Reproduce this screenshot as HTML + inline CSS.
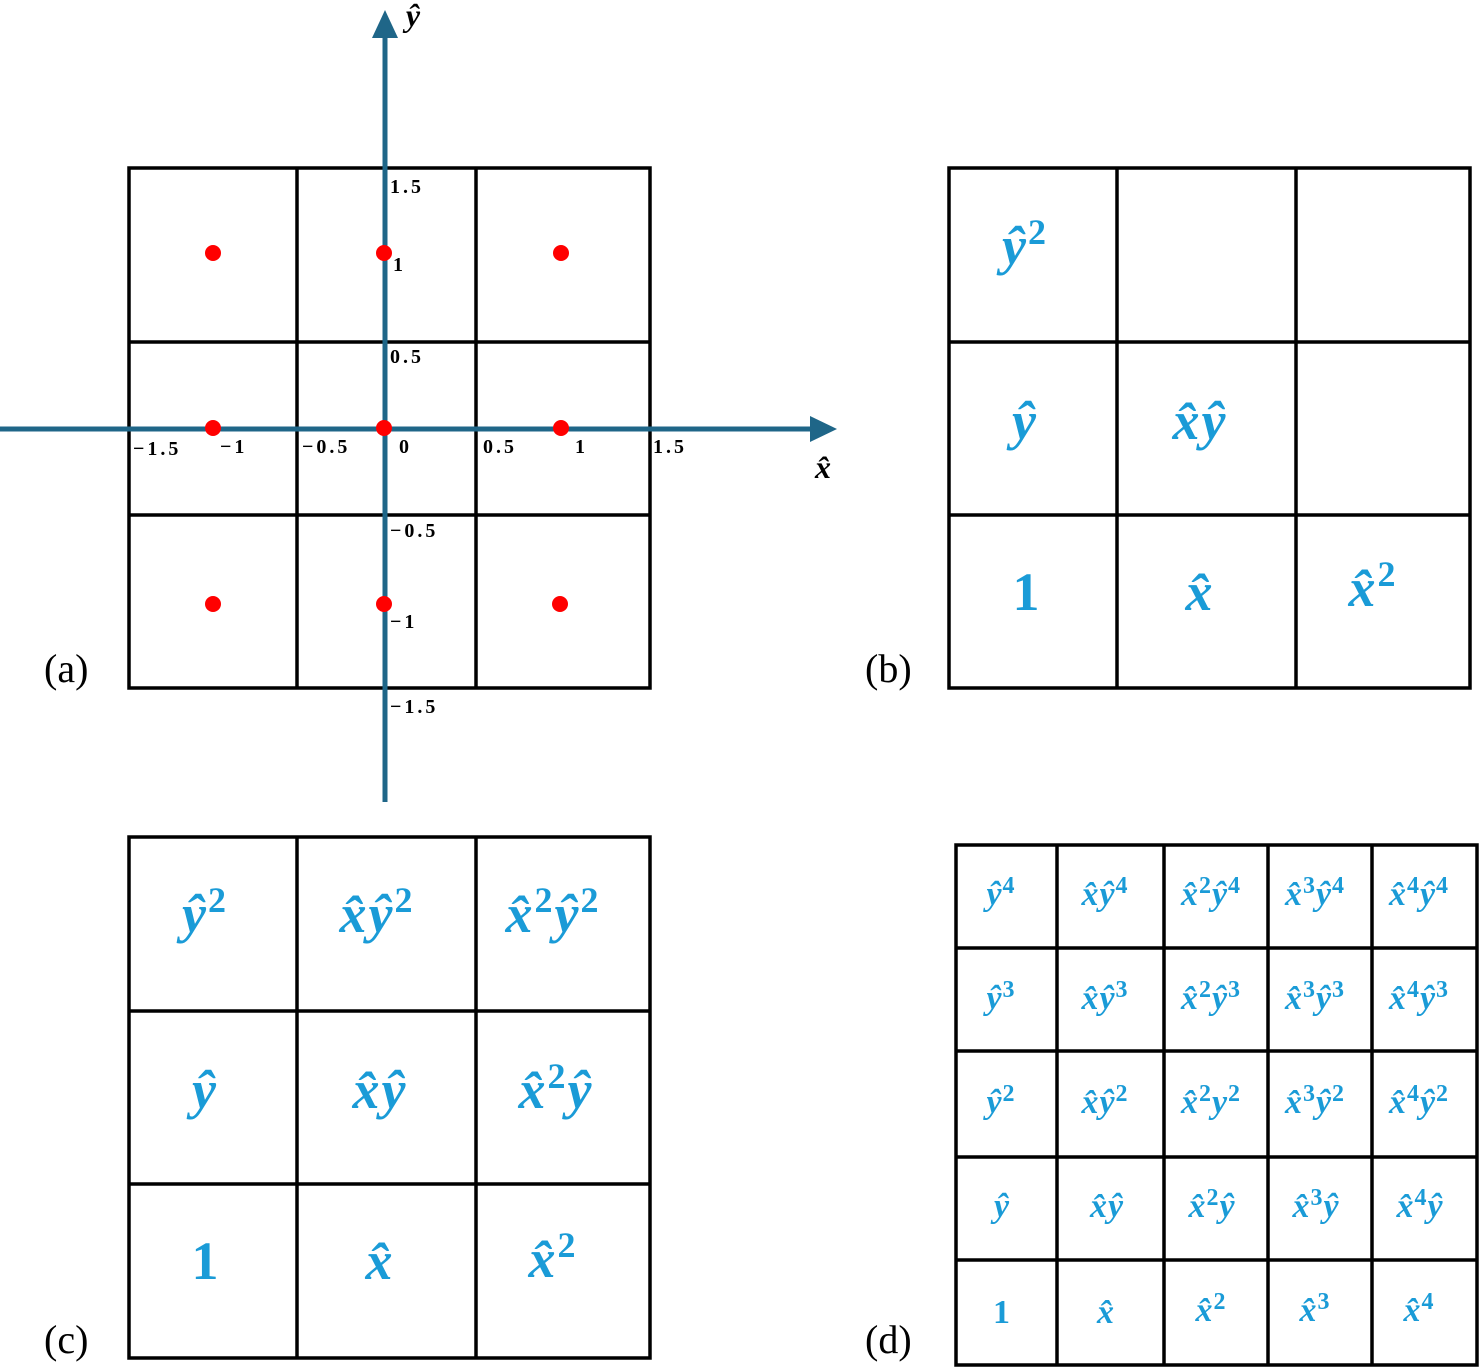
<!DOCTYPE html>
<html><head><meta charset="utf-8"><style>
html,body{margin:0;padding:0;background:#fff;}
svg{display:block;}
.m{font-family:"Liberation Serif","DejaVu Serif",serif;font-weight:bold;font-style:italic;fill:#1a9bd7;text-anchor:middle;letter-spacing:2px;}
.n{font-style:normal;}
.ax{font-family:"Liberation Serif",serif;font-weight:bold;font-size:20px;fill:#000;letter-spacing:3px;}
.lab{font-family:"Liberation Serif",serif;font-size:40px;fill:#000;}
.g{fill:none;stroke:#000;stroke-width:3.5;}
</style></head><body>
<svg width="1479" height="1367" viewBox="0 0 1479 1367" xmlns="http://www.w3.org/2000/svg">
<g class="g">
<rect x="129" y="168" width="521" height="520"/>
<line x1="297" y1="168" x2="297" y2="688"/><line x1="476" y1="168" x2="476" y2="688"/>
<line x1="129" y1="342" x2="650" y2="342"/><line x1="129" y1="515" x2="650" y2="515"/>
</g>
<g stroke="#1f6688" stroke-width="5" fill="#1f6688">
<line x1="0" y1="429" x2="815" y2="429"/>
<line x1="385" y1="802" x2="385" y2="35"/>
</g>
<polygon points="837,429 810,416 810,442" fill="#1f6688"/>
<polygon points="385,10 372,38 398,38" fill="#1f6688"/>
<text class="m" x="824" y="478" style="font-size:32px;fill:#000">x̂</text>
<text class="m" x="414" y="26" style="font-size:32px;fill:#000">ŷ</text>
<g fill="#f00">
<circle cx="213" cy="253" r="8"/><circle cx="384" cy="253" r="8"/><circle cx="561" cy="253" r="8"/>
<circle cx="213" cy="428" r="8"/><circle cx="384" cy="428" r="8"/><circle cx="561" cy="428" r="8"/>
<circle cx="213" cy="604" r="8"/><circle cx="384" cy="604" r="8"/><circle cx="560" cy="604" r="8"/>
</g>
<g class="ax">
<text x="390" y="193">1.5</text><text x="393" y="271">1</text><text x="390" y="363">0.5</text>
<text x="133" y="455">−1.5</text><text x="220" y="453">−1</text><text x="302" y="453">−0.5</text>
<text x="399" y="453">0</text><text x="483" y="453">0.5</text><text x="575" y="453">1</text><text x="653" y="453">1.5</text>
<text x="390" y="537">−0.5</text><text x="390" y="628">−1</text><text x="390" y="713">−1.5</text>
</g>
<text class="lab" x="44" y="682">(a)</text>
<text class="lab" x="865" y="682">(b)</text>
<text class="lab" x="44" y="1353">(c)</text>
<text class="lab" x="865" y="1353">(d)</text>

<g class="g">
<rect x="949" y="168" width="521" height="520"/>
<line x1="1117" y1="168" x2="1117" y2="688"/><line x1="1296" y1="168" x2="1296" y2="688"/>
<line x1="949" y1="342" x2="1470" y2="342"/><line x1="949" y1="515" x2="1470" y2="515"/>
</g>
<g class="m" style="font-size:54px">
<text x="1025" y="264">ŷ<tspan dy="-20" style="font-size:36px" class="n">2</tspan></text>
<text x="1025" y="439">ŷ</text>
<text x="1200" y="439">x̂ŷ</text>
<text x="1027" y="610" class="n">1</text>
<text x="1200" y="610">x̂</text>
<text x="1373" y="606">x̂<tspan dy="-20" style="font-size:36px" class="n">2</tspan></text>
</g>

<g class="g">
<rect x="129" y="837" width="521" height="521"/>
<line x1="297" y1="837" x2="297" y2="1358"/><line x1="476" y1="837" x2="476" y2="1358"/>
<line x1="129" y1="1011" x2="650" y2="1011"/><line x1="129" y1="1184" x2="650" y2="1184"/>
</g>
<g class="m" style="font-size:54px">
<text x="205" y="932">ŷ<tspan dy="-20" style="font-size:36px" class="n">2</tspan></text>
<text x="377" y="932">x̂ŷ<tspan dy="-20" style="font-size:36px" class="n">2</tspan></text>
<text x="553" y="932">x̂<tspan dy="-20" style="font-size:36px" class="n">2</tspan><tspan dy="20">ŷ</tspan><tspan dy="-20" style="font-size:36px" class="n">2</tspan></text>
<text x="205" y="1108">ŷ</text>
<text x="380" y="1108">x̂ŷ</text>
<text x="556" y="1108">x̂<tspan dy="-20" style="font-size:36px" class="n">2</tspan><tspan dy="20">ŷ</tspan></text>
<text x="206" y="1279" class="n">1</text>
<text x="380" y="1279">x̂</text>
<text x="553" y="1277">x̂<tspan dy="-20" style="font-size:36px" class="n">2</tspan></text>
</g>

<g class="g">
<rect x="956" y="845" width="521" height="520"/>
<line x1="1057" y1="845" x2="1057" y2="1365"/><line x1="1164" y1="845" x2="1164" y2="1365"/>
<line x1="1268" y1="845" x2="1268" y2="1365"/><line x1="1372" y1="845" x2="1372" y2="1365"/>
<line x1="956" y1="948" x2="1477" y2="948"/><line x1="956" y1="1051" x2="1477" y2="1051"/>
<line x1="956" y1="1157" x2="1477" y2="1157"/><line x1="956" y1="1260" x2="1477" y2="1260"/>
</g>
<g class="m" style="font-size:34px;letter-spacing:1px">
<text x="1001" y="905">ŷ<tspan dy="-12" style="font-size:24px" class="n">4</tspan></text>
<text x="1105" y="905">x̂ŷ<tspan dy="-12" style="font-size:24px" class="n">4</tspan></text>
<text x="1211" y="905">x̂<tspan dy="-12" style="font-size:24px" class="n">2</tspan><tspan dy="12">ŷ</tspan><tspan dy="-12" style="font-size:24px" class="n">4</tspan></text>
<text x="1315" y="905">x̂<tspan dy="-12" style="font-size:24px" class="n">3</tspan><tspan dy="12">ŷ</tspan><tspan dy="-12" style="font-size:24px" class="n">4</tspan></text>
<text x="1419" y="905">x̂<tspan dy="-12" style="font-size:24px" class="n">4</tspan><tspan dy="12">ŷ</tspan><tspan dy="-12" style="font-size:24px" class="n">4</tspan></text>

<text x="1001" y="1009">ŷ<tspan dy="-12" style="font-size:24px" class="n">3</tspan></text>
<text x="1105" y="1009">x̂ŷ<tspan dy="-12" style="font-size:24px" class="n">3</tspan></text>
<text x="1211" y="1009">x̂<tspan dy="-12" style="font-size:24px" class="n">2</tspan><tspan dy="12">ŷ</tspan><tspan dy="-12" style="font-size:24px" class="n">3</tspan></text>
<text x="1315" y="1009">x̂<tspan dy="-12" style="font-size:24px" class="n">3</tspan><tspan dy="12">ŷ</tspan><tspan dy="-12" style="font-size:24px" class="n">3</tspan></text>
<text x="1419" y="1009">x̂<tspan dy="-12" style="font-size:24px" class="n">4</tspan><tspan dy="12">ŷ</tspan><tspan dy="-12" style="font-size:24px" class="n">3</tspan></text>

<text x="1001" y="1113">ŷ<tspan dy="-12" style="font-size:24px" class="n">2</tspan></text>
<text x="1105" y="1113">x̂ŷ<tspan dy="-12" style="font-size:24px" class="n">2</tspan></text>
<text x="1211" y="1113">x̂<tspan dy="-12" style="font-size:24px" class="n">2</tspan><tspan dy="12">y</tspan><tspan dy="-12" style="font-size:24px" class="n">2</tspan></text>
<text x="1315" y="1113">x̂<tspan dy="-12" style="font-size:24px" class="n">3</tspan><tspan dy="12">ŷ</tspan><tspan dy="-12" style="font-size:24px" class="n">2</tspan></text>
<text x="1419" y="1113">x̂<tspan dy="-12" style="font-size:24px" class="n">4</tspan><tspan dy="12">ŷ</tspan><tspan dy="-12" style="font-size:24px" class="n">2</tspan></text>

<text x="1002" y="1217">ŷ</text>
<text x="1107" y="1217">x̂ŷ</text>
<text x="1212" y="1217">x̂<tspan dy="-12" style="font-size:24px" class="n">2</tspan><tspan dy="12">ŷ</tspan></text>
<text x="1316" y="1217">x̂<tspan dy="-12" style="font-size:24px" class="n">3</tspan><tspan dy="12">ŷ</tspan></text>
<text x="1420" y="1217">x̂<tspan dy="-12" style="font-size:24px" class="n">4</tspan><tspan dy="12">ŷ</tspan></text>

<text x="1002" y="1323" class="n">1</text>
<text x="1106" y="1323">x̂</text>
<text x="1211" y="1321">x̂<tspan dy="-12" style="font-size:24px" class="n">2</tspan></text>
<text x="1315" y="1321">x̂<tspan dy="-12" style="font-size:24px" class="n">3</tspan></text>
<text x="1419" y="1321">x̂<tspan dy="-12" style="font-size:24px" class="n">4</tspan></text>
</g>
</svg>
</body></html>
